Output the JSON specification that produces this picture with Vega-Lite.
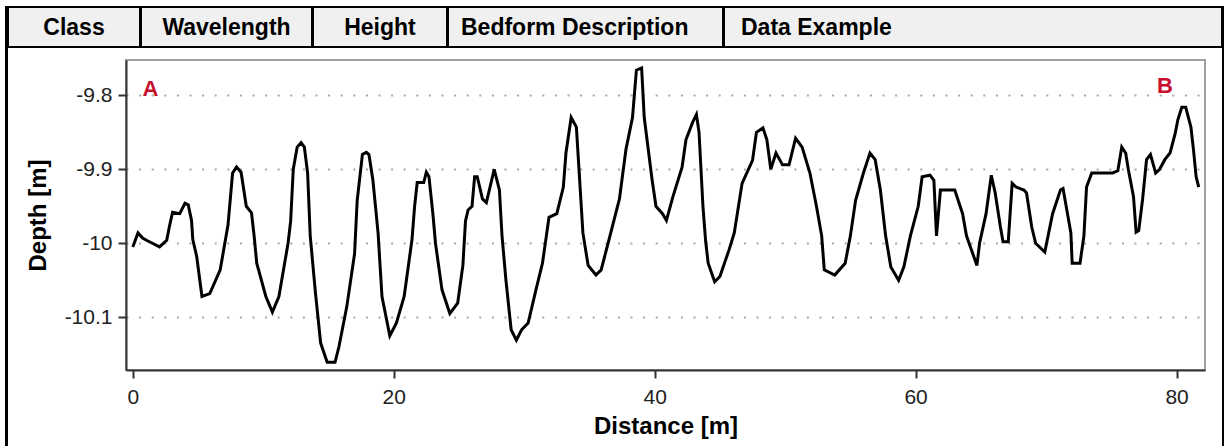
{
  "$schema": "https://vega.github.io/schema/vega-lite/v6.json",
  "background": "white",
  "padding": {"left": 5, "top": 6, "right": 0, "bottom": 0},
  "config": {
    "font": "Liberation Sans",
    "view": {"stroke": null},
    "axis": {"labelFont": "Liberation Sans", "titleFont": "Liberation Sans"}
  },
  "spacing": -3,
  "hconcat": [
    {
      "width": 1, "height": 445,
      "data": {"values": []},
      "mark": "text",
      "view": {"stroke": "#000000", "strokeWidth": 2}
    },
    {
      "spacing": 11,
      "vconcat": [
        {
          "spacing": -2,
          "hconcat": [
            {"width": 132, "height": 40, "data": {"values": [{"label": "Class"}]}, "mark": {"type": "text", "fontSize": 23, "fontWeight": "bold", "color": "#000000", "dy": 1}, "encoding": {"text": {"field": "label"}}, "view": {"fill": "#f0f0f0", "stroke": "#000000", "strokeWidth": 2}},
            {"width": 171, "height": 40, "data": {"values": [{"label": "Wavelength"}]}, "mark": {"type": "text", "fontSize": 23, "fontWeight": "bold", "color": "#000000", "dy": 1}, "encoding": {"text": {"field": "label"}}, "view": {"fill": "#f0f0f0", "stroke": "#000000", "strokeWidth": 2}},
            {"width": 134, "height": 40, "data": {"values": [{"label": "Height"}]}, "mark": {"type": "text", "fontSize": 23, "fontWeight": "bold", "color": "#000000", "dy": 1}, "encoding": {"text": {"field": "label"}}, "view": {"fill": "#f0f0f0", "stroke": "#000000", "strokeWidth": 2}},
            {"width": 275, "height": 40, "data": {"values": [{"label": "Bedform Description"}]}, "mark": {"type": "text", "fontSize": 23, "fontWeight": "bold", "color": "#000000", "align": "left", "dx": 13, "dy": 1}, "encoding": {"text": {"field": "label"}, "x": {"value": 0}}, "view": {"fill": "#f0f0f0", "stroke": "#000000", "strokeWidth": 2}},
            {"width": 498, "height": 40, "data": {"values": [{"label": "Data Example"}]}, "mark": {"type": "text", "fontSize": 23, "fontWeight": "bold", "color": "#000000", "align": "left", "dx": 17, "dy": 1}, "encoding": {"text": {"field": "label"}, "x": {"value": 0}}, "view": {"fill": "#f0f0f0", "stroke": "#000000", "strokeWidth": 2}}
          ]
        },
        {
          "spacing": 0,
          "hconcat": [
            {"width": 17, "height": 10, "data": {"values": []}, "mark": "text"},
            {
              "width": 1079, "height": 310,
              "view": {"stroke": "#a0a0a0", "strokeWidth": 2},
              "layer": [
                {
                  "data": {"values": [
                    {"distance": 0.0, "depth": -10.005},
                    {"distance": 0.4, "depth": -9.986},
                    {"distance": 0.75, "depth": -9.993},
                    {"distance": 1.05, "depth": -9.996},
                    {"distance": 1.5, "depth": -10.0},
                    {"distance": 2.05, "depth": -10.005},
                    {"distance": 2.6, "depth": -9.996},
                    {"distance": 2.8, "depth": -9.978},
                    {"distance": 3.05, "depth": -9.958},
                    {"distance": 3.6, "depth": -9.96},
                    {"distance": 4.0, "depth": -9.946},
                    {"distance": 4.25, "depth": -9.948},
                    {"distance": 4.5, "depth": -9.969},
                    {"distance": 4.6, "depth": -9.995},
                    {"distance": 4.9, "depth": -10.018},
                    {"distance": 5.3, "depth": -10.072},
                    {"distance": 5.9, "depth": -10.068},
                    {"distance": 6.7, "depth": -10.036},
                    {"distance": 7.3, "depth": -9.975},
                    {"distance": 7.65, "depth": -9.905},
                    {"distance": 7.95, "depth": -9.897},
                    {"distance": 8.3, "depth": -9.904},
                    {"distance": 8.7, "depth": -9.95},
                    {"distance": 9.1, "depth": -9.959},
                    {"distance": 9.3, "depth": -9.99},
                    {"distance": 9.5, "depth": -10.027},
                    {"distance": 10.2, "depth": -10.072},
                    {"distance": 10.7, "depth": -10.093},
                    {"distance": 11.2, "depth": -10.072},
                    {"distance": 11.9, "depth": -10.0},
                    {"distance": 12.1, "depth": -9.97},
                    {"distance": 12.3, "depth": -9.9},
                    {"distance": 12.6, "depth": -9.87},
                    {"distance": 12.9, "depth": -9.864},
                    {"distance": 13.15, "depth": -9.87},
                    {"distance": 13.4, "depth": -9.905},
                    {"distance": 13.6, "depth": -9.99},
                    {"distance": 14.0, "depth": -10.067},
                    {"distance": 14.4, "depth": -10.135},
                    {"distance": 14.9, "depth": -10.161},
                    {"distance": 15.5, "depth": -10.161},
                    {"distance": 15.8, "depth": -10.14},
                    {"distance": 16.4, "depth": -10.086},
                    {"distance": 17.0, "depth": -10.014},
                    {"distance": 17.2, "depth": -9.942},
                    {"distance": 17.6, "depth": -9.88},
                    {"distance": 17.9, "depth": -9.877},
                    {"distance": 18.1, "depth": -9.88},
                    {"distance": 18.4, "depth": -9.914},
                    {"distance": 18.8, "depth": -9.986},
                    {"distance": 19.1, "depth": -10.072},
                    {"distance": 19.7, "depth": -10.125},
                    {"distance": 20.2, "depth": -10.108},
                    {"distance": 20.8, "depth": -10.072},
                    {"distance": 21.4, "depth": -9.995},
                    {"distance": 21.6, "depth": -9.95},
                    {"distance": 21.8, "depth": -9.918},
                    {"distance": 22.3, "depth": -9.918},
                    {"distance": 22.5, "depth": -9.904},
                    {"distance": 22.7, "depth": -9.91},
                    {"distance": 23.0, "depth": -9.96},
                    {"distance": 23.2, "depth": -10.0},
                    {"distance": 23.7, "depth": -10.063},
                    {"distance": 24.3, "depth": -10.095},
                    {"distance": 24.9, "depth": -10.081},
                    {"distance": 25.3, "depth": -10.03},
                    {"distance": 25.5, "depth": -9.97},
                    {"distance": 25.7, "depth": -9.955},
                    {"distance": 26.0, "depth": -9.95},
                    {"distance": 26.2, "depth": -9.91},
                    {"distance": 26.4, "depth": -9.91},
                    {"distance": 26.8, "depth": -9.94},
                    {"distance": 27.1, "depth": -9.945},
                    {"distance": 27.7, "depth": -9.9},
                    {"distance": 28.1, "depth": -9.928},
                    {"distance": 28.3, "depth": -9.99},
                    {"distance": 28.6, "depth": -10.05},
                    {"distance": 29.0, "depth": -10.117},
                    {"distance": 29.4, "depth": -10.131},
                    {"distance": 29.8, "depth": -10.117},
                    {"distance": 30.3, "depth": -10.108},
                    {"distance": 30.9, "depth": -10.063},
                    {"distance": 31.4, "depth": -10.027},
                    {"distance": 31.7, "depth": -9.99},
                    {"distance": 31.9, "depth": -9.965},
                    {"distance": 32.5, "depth": -9.96},
                    {"distance": 33.0, "depth": -9.924},
                    {"distance": 33.2, "depth": -9.878},
                    {"distance": 33.6, "depth": -9.83},
                    {"distance": 34.0, "depth": -9.843},
                    {"distance": 34.2, "depth": -9.9},
                    {"distance": 34.5, "depth": -9.986},
                    {"distance": 34.9, "depth": -10.03},
                    {"distance": 35.5, "depth": -10.043},
                    {"distance": 35.9, "depth": -10.036},
                    {"distance": 36.5, "depth": -9.995},
                    {"distance": 37.3, "depth": -9.94},
                    {"distance": 37.8, "depth": -9.873},
                    {"distance": 38.3, "depth": -9.83},
                    {"distance": 38.6, "depth": -9.766},
                    {"distance": 39.0, "depth": -9.763},
                    {"distance": 39.2, "depth": -9.83},
                    {"distance": 39.8, "depth": -9.914},
                    {"distance": 40.1, "depth": -9.95},
                    {"distance": 40.6, "depth": -9.96},
                    {"distance": 40.9, "depth": -9.969},
                    {"distance": 41.4, "depth": -9.937},
                    {"distance": 42.1, "depth": -9.897},
                    {"distance": 42.4, "depth": -9.86},
                    {"distance": 42.9, "depth": -9.837},
                    {"distance": 43.2, "depth": -9.826},
                    {"distance": 43.4, "depth": -9.85},
                    {"distance": 43.7, "depth": -9.95},
                    {"distance": 43.9, "depth": -9.996},
                    {"distance": 44.1, "depth": -10.027},
                    {"distance": 44.6, "depth": -10.052},
                    {"distance": 45.0, "depth": -10.045},
                    {"distance": 45.7, "depth": -10.009},
                    {"distance": 46.1, "depth": -9.986},
                    {"distance": 46.7, "depth": -9.919},
                    {"distance": 47.5, "depth": -9.888},
                    {"distance": 47.8, "depth": -9.85},
                    {"distance": 48.3, "depth": -9.844},
                    {"distance": 48.6, "depth": -9.86},
                    {"distance": 48.9, "depth": -9.9},
                    {"distance": 49.3, "depth": -9.878},
                    {"distance": 49.8, "depth": -9.894},
                    {"distance": 50.3, "depth": -9.894},
                    {"distance": 50.8, "depth": -9.858},
                    {"distance": 51.3, "depth": -9.87},
                    {"distance": 51.9, "depth": -9.905},
                    {"distance": 52.4, "depth": -9.95},
                    {"distance": 52.8, "depth": -9.99},
                    {"distance": 53.0, "depth": -10.036},
                    {"distance": 53.8, "depth": -10.043},
                    {"distance": 54.6, "depth": -10.027},
                    {"distance": 55.0, "depth": -9.99},
                    {"distance": 55.4, "depth": -9.942},
                    {"distance": 56.0, "depth": -9.905},
                    {"distance": 56.5, "depth": -9.878},
                    {"distance": 56.9, "depth": -9.887},
                    {"distance": 57.3, "depth": -9.928},
                    {"distance": 57.7, "depth": -9.99},
                    {"distance": 58.1, "depth": -10.032},
                    {"distance": 58.7, "depth": -10.05},
                    {"distance": 59.1, "depth": -10.032},
                    {"distance": 59.6, "depth": -9.99},
                    {"distance": 60.2, "depth": -9.95},
                    {"distance": 60.5, "depth": -9.91},
                    {"distance": 61.1, "depth": -9.908},
                    {"distance": 61.4, "depth": -9.915},
                    {"distance": 61.6, "depth": -9.99},
                    {"distance": 61.9, "depth": -9.928},
                    {"distance": 63.0, "depth": -9.928},
                    {"distance": 63.6, "depth": -9.96},
                    {"distance": 63.9, "depth": -9.99},
                    {"distance": 64.2, "depth": -10.005},
                    {"distance": 64.7, "depth": -10.03},
                    {"distance": 64.9, "depth": -10.0},
                    {"distance": 65.4, "depth": -9.96},
                    {"distance": 65.8, "depth": -9.908},
                    {"distance": 66.1, "depth": -9.932},
                    {"distance": 66.5, "depth": -9.978},
                    {"distance": 66.7, "depth": -9.998},
                    {"distance": 67.1, "depth": -9.998},
                    {"distance": 67.4, "depth": -9.919},
                    {"distance": 67.7, "depth": -9.924},
                    {"distance": 68.3, "depth": -9.928},
                    {"distance": 68.5, "depth": -9.932},
                    {"distance": 68.9, "depth": -9.978},
                    {"distance": 69.2, "depth": -10.0},
                    {"distance": 69.9, "depth": -10.012},
                    {"distance": 70.5, "depth": -9.96},
                    {"distance": 71.1, "depth": -9.928},
                    {"distance": 71.3, "depth": -9.926},
                    {"distance": 71.9, "depth": -9.986},
                    {"distance": 72.0, "depth": -10.027},
                    {"distance": 72.6, "depth": -10.027},
                    {"distance": 72.9, "depth": -9.99},
                    {"distance": 73.1, "depth": -9.924},
                    {"distance": 73.5, "depth": -9.905},
                    {"distance": 75.1, "depth": -9.905},
                    {"distance": 75.5, "depth": -9.902},
                    {"distance": 75.8, "depth": -9.87},
                    {"distance": 76.1, "depth": -9.878},
                    {"distance": 76.3, "depth": -9.9},
                    {"distance": 76.7, "depth": -9.937},
                    {"distance": 76.9, "depth": -9.985},
                    {"distance": 77.1, "depth": -9.983},
                    {"distance": 77.4, "depth": -9.94},
                    {"distance": 77.7, "depth": -9.887},
                    {"distance": 78.0, "depth": -9.88},
                    {"distance": 78.4, "depth": -9.905},
                    {"distance": 78.7, "depth": -9.9},
                    {"distance": 79.1, "depth": -9.887},
                    {"distance": 79.5, "depth": -9.878},
                    {"distance": 79.9, "depth": -9.851},
                    {"distance": 80.1, "depth": -9.833},
                    {"distance": 80.4, "depth": -9.816},
                    {"distance": 80.7, "depth": -9.816},
                    {"distance": 81.1, "depth": -9.843},
                    {"distance": 81.3, "depth": -9.874},
                    {"distance": 81.5, "depth": -9.91},
                    {"distance": 81.7, "depth": -9.924}
                  ]},
                  "mark": {"type": "line", "color": "#000000", "strokeWidth": 3},
                  "encoding": {
                    "x": {
                      "field": "distance", "type": "quantitative",
                      "scale": {"domain": [-0.52, 82.18], "nice": false, "zero": false},
                      "axis": {
                        "values": [0, 20, 40, 60, 80],
                        "title": "Distance [m]",
                        "titleFontSize": 24, "titleFontWeight": "bold", "titleColor": "#000000", "titlePadding": 7,
                        "labelFontSize": 21, "labelColor": "#222222", "labelPadding": 8,
                        "tickSize": 8, "tickWidth": 2, "tickColor": "#333333",
                        "domainColor": "#333333", "domainWidth": 2,
                        "grid": false
                      }
                    },
                    "y": {
                      "field": "depth", "type": "quantitative",
                      "scale": {"domain": [-10.1714, -9.7522], "nice": false, "zero": false},
                      "axis": {
                        "values": [-10.1, -10, -9.9, -9.8],
                        "labelExpr": "toString(datum.value)",
                        "title": "Depth [m]",
                        "titleFontSize": 24, "titleFontWeight": "bold", "titleColor": "#000000", "titlePadding": 14,
                        "labelFontSize": 21, "labelColor": "#222222", "labelPadding": 6,
                        "tickSize": 8, "tickWidth": 2, "tickColor": "#333333",
                        "domainColor": "#333333", "domainWidth": 2,
                        "grid": true, "gridColor": "#a8a8a8", "gridWidth": 2, "gridDash": [2, 10.6]
                      }
                    }
                  }
                },
                {
                  "data": {"values": [
                    {"label": "A", "distance": 1.36, "depth": -9.791},
                    {"label": "B", "distance": 79.1, "depth": -9.787}
                  ]},
                  "mark": {"type": "text", "color": "#c8102e", "fontSize": 22, "fontWeight": "bold"},
                  "encoding": {
                    "x": {"field": "distance", "type": "quantitative"},
                    "y": {"field": "depth", "type": "quantitative"},
                    "text": {"field": "label"}
                  }
                }
              ]
            }
          ]
        }
      ]
    },
    {
      "width": 1, "height": 445,
      "data": {"values": []},
      "mark": "text",
      "view": {"stroke": "#000000", "strokeWidth": 2}
    }
  ]
}
